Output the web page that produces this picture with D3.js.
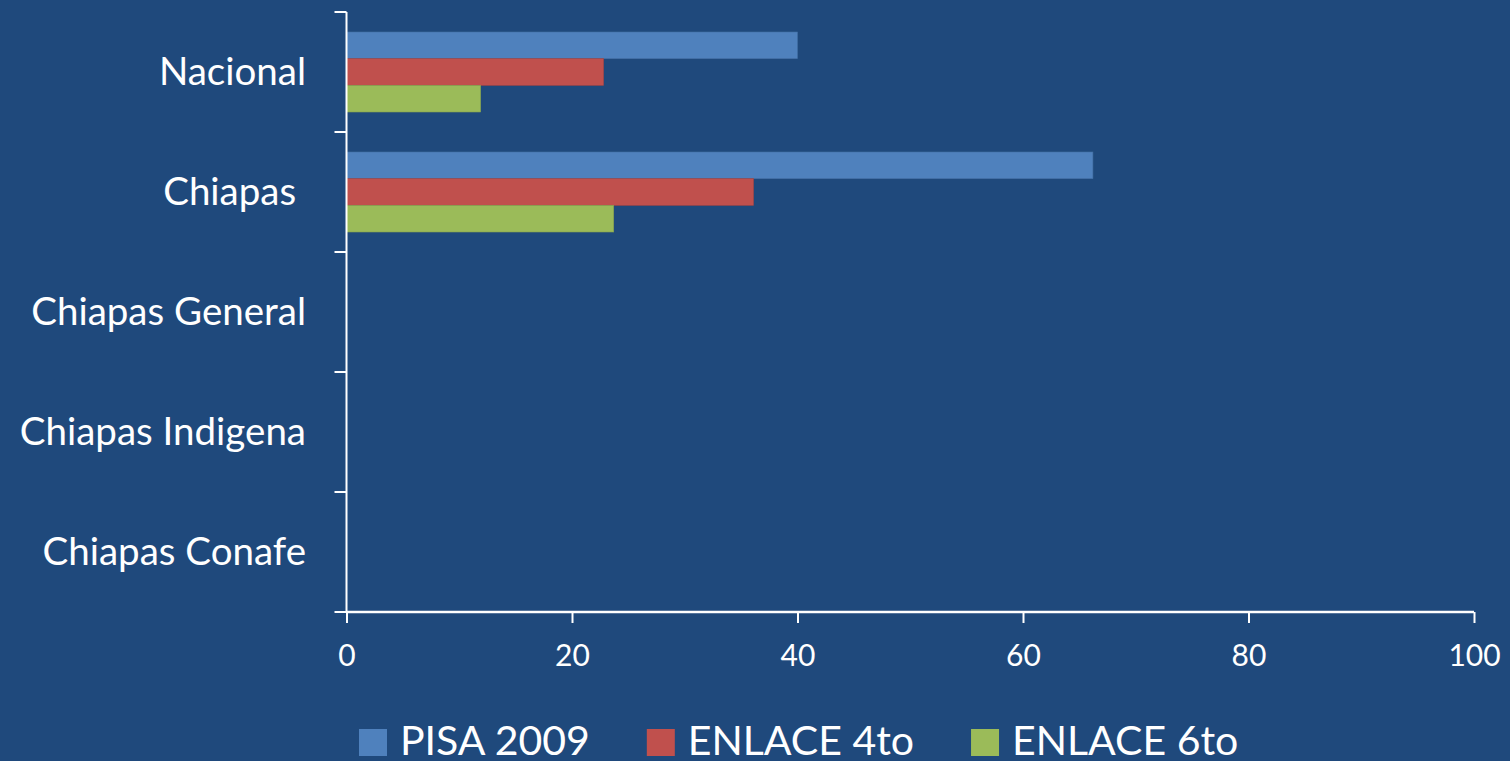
<!DOCTYPE html>
<html><head><meta charset="utf-8">
<script src="https://cdn.jsdelivr.net/npm/d3@7"></script>
<style>
html,body{margin:0;padding:0;background:#1F497C;overflow:hidden;}
text{font-family:Lato, "Open Sans", sans-serif;fill:#fff;}
</style></head><body>
<svg id="chart" width="1510" height="761"></svg>
<script>
const categories = ["Nacional", "Chiapas ", "Chiapas General", "Chiapas Indigena", "Chiapas Conafe"];
const seriesNames = ["PISA 2009", "ENLACE 4to", "ENLACE 6to"];
const pisa2009 = [40.0, 66.2, null, null, null];
const enlace4to = [22.8, 36.1, null, null, null];
const enlace6to = [11.9, 23.7, null, null, null];
const xTicks = [0, 20, 40, 60, 80, 100];
const colors = ["#4F81BD", "#C0504D", "#9BBB59"];

(function(){
const seriesValues = [pisa2009, enlace4to, enlace6to];
const svg = d3.select("#chart");
svg.append("rect").attr("width",1510).attr("height",761).attr("fill","#1F497C");

const mL = 346.5, mR = 1474, mT = 12, mB = 612;
const x = d3.scaleLinear().domain([0,100]).range([mL,mR]);
const y = d3.scaleBand().domain(categories).range([mT,mB]).paddingInner(0).paddingOuter(0);
const inner = d3.scaleBand().domain(seriesNames).range([20, y.bandwidth()-20]);

seriesNames.forEach((s,si)=>{
  svg.append("g").selectAll("rect")
    .data(categories.map((c,i)=>({c, v: seriesValues[si][i]})).filter(d=>d.v!=null))
    .join("rect")
    .attr("x", x(0))
    .attr("y", d=>y(d.c)+inner(s))
    .attr("width", d=>x(d.v)-x(0))
    .attr("height", inner.bandwidth())
    .attr("fill", colors[si])
    .attr("stroke", d3.color(colors[si]).darker(0.4))
    .attr("stroke-width", 0.6);
});

const yAxisG = svg.append("g");
yAxisG.append("line").attr("x1",mL).attr("x2",mL).attr("y1",mT).attr("y2",mB)
  .attr("stroke","#fff").attr("stroke-width",2);
const yTickPos = categories.map(c=>y(c)).concat([mB]);
yAxisG.selectAll("line.t").data(yTickPos).join("line").attr("class","t")
  .attr("x1",mL-12).attr("x2",mL).attr("y1",d=>d).attr("y2",d=>d)
  .attr("stroke","#fff").attr("stroke-width",2);
yAxisG.selectAll("text").data(categories).join("text")
  .attr("x", 306).attr("y", d=>y(d)+y.bandwidth()/2+13)
  .attr("text-anchor","end")
  .attr("font-size",38.5).style("white-space","pre")
  .text(d=>d);

const xAxis = d3.axisBottom(x).tickValues(xTicks).tickSize(11).tickPadding(22).tickFormat(d3.format("d"));
const xg = svg.append("g").attr("transform",`translate(0,${mB})`).call(xAxis);
xg.select(".domain").attr("stroke","#fff").attr("stroke-width",2.5).attr("d",`M${mL},0H${mR}`);
xg.selectAll(".tick line").attr("stroke","#fff").attr("stroke-width",2);
xg.selectAll(".tick text").attr("font-size",30).attr("fill","#fff").style("font-family","Lato, sans-serif");

const lg = svg.append("g");
let lx = 359;
seriesNames.forEach((s,i)=>{
  lg.append("rect").attr("x",lx).attr("y",729).attr("width",28).attr("height",27).attr("fill",colors[i]);
  const t = lg.append("text").attr("x",lx+41).attr("y",755).attr("font-size",41).text(s);
  lx += 41 + t.node().getComputedTextLength() + 57;
});
})();
</script>
</body></html>
